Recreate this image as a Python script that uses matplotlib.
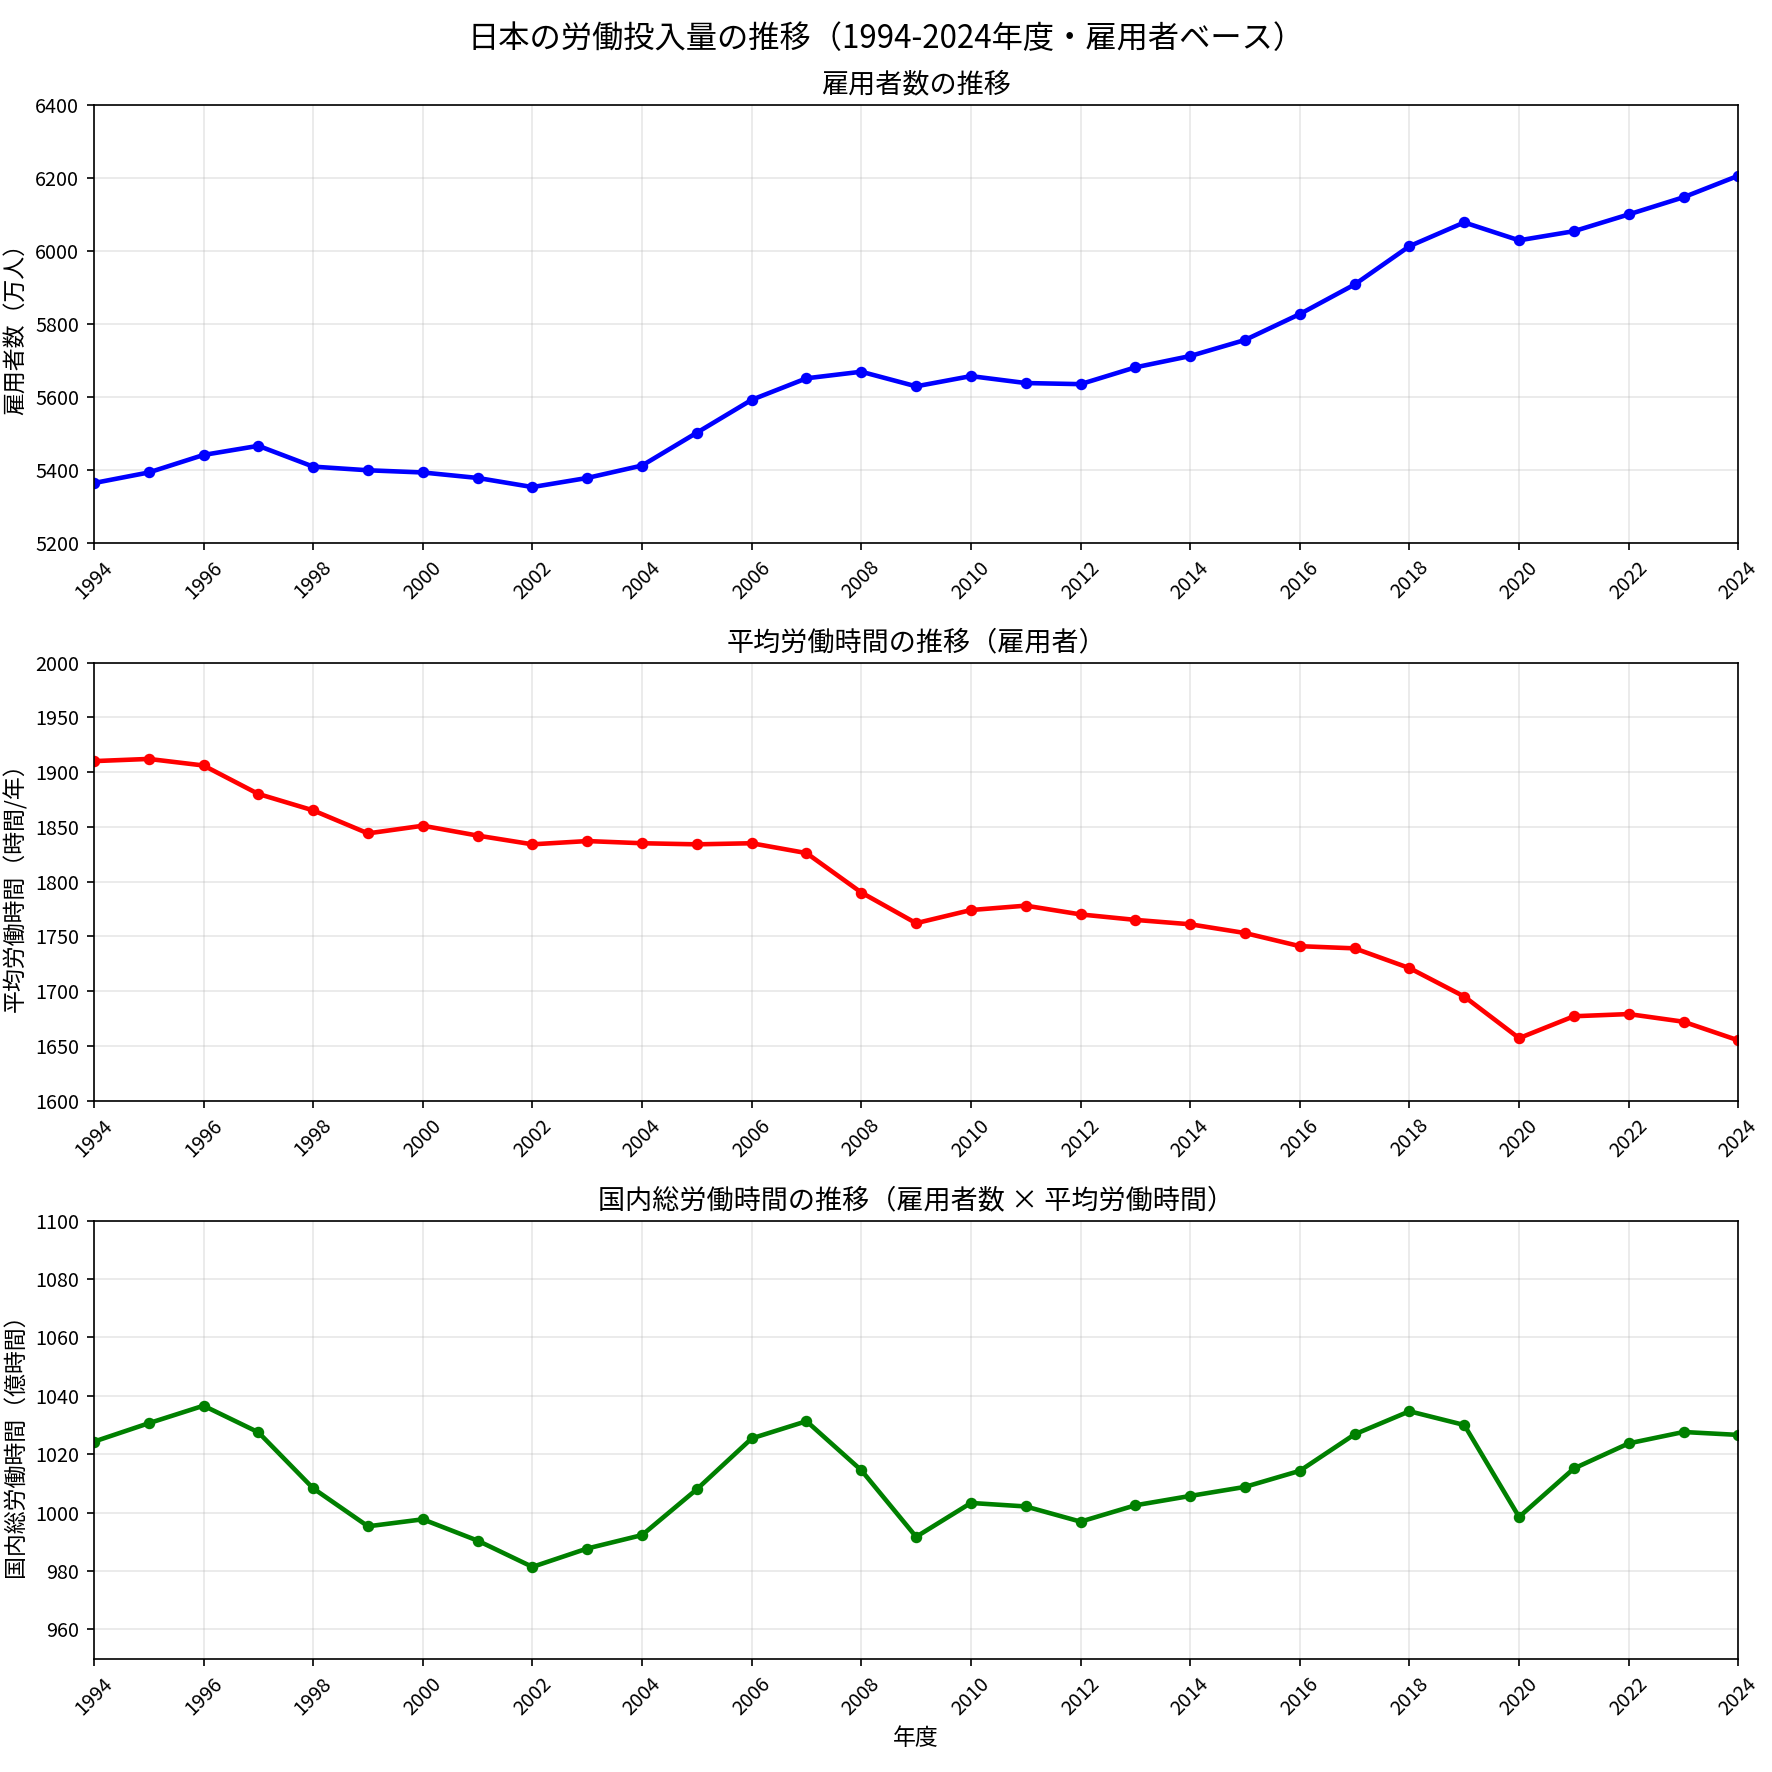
"""
日本の労働投入量の推移（1994-2024年度・雇用者ベース）
雇用者数・平均労働時間・国内総労働時間の3段グラフ
"""

import numpy as np
import matplotlib
matplotlib.use('Agg')
import matplotlib.pyplot as plt

plt.rcParams['font.family'] = ['Noto Sans CJK JP', 'DejaVu Sans']
plt.rcParams['axes.unicode_minus'] = False

# ── data ──────────────────────────────────────────────────────────────────────

years = list(range(1994, 2025))

# 雇用者数（万人）
employees = [5363, 5392, 5440, 5465, 5408, 5398, 5392, 5377, 5352, 5377,
             5411, 5501, 5591, 5650, 5668, 5628, 5656, 5637, 5634, 5680,
             5711, 5755, 5826, 5907, 6012, 6077, 6028, 6053, 6099, 6146,
             6205]

# 平均労働時間（時間/年）
avg_hours = [1910, 1912, 1906, 1880, 1865, 1844, 1851, 1842, 1834, 1837,
             1835, 1834, 1835, 1826, 1790, 1762, 1774, 1778, 1770, 1765,
             1761, 1753, 1741, 1739, 1721, 1695, 1657, 1677, 1679, 1672,
             1655]

# 国内総労働時間（億時間）
total_hours = [1024.3, 1030.6, 1036.6, 1027.5, 1008.3, 995.3, 997.7, 990.4,
               981.4, 987.7, 992.3, 1008.0, 1025.4, 1031.3, 1014.5, 991.7,
               1003.3, 1002.1, 996.9, 1002.5, 1005.7, 1008.8, 1014.3, 1026.8,
               1034.7, 1030.0, 998.5, 1015.1, 1023.7, 1027.6, 1026.6]

year_ticks = list(range(1994, 2025, 2))

panels = [
    ('雇用者数の推移', '雇用者数（万人）', employees, 'blue', (5200, 6400)),
    ('平均労働時間の推移（雇用者）', '平均労働時間（時間/年）', avg_hours, 'red', (1600, 2000)),
    ('国内総労働時間の推移（雇用者数 × 平均労働時間）', '国内総労働時間（億時間）',
     total_hours, 'green', (950, 1100)),
]

# ── plotting ──────────────────────────────────────────────────────────────────

fig, axes = plt.subplots(3, 1, figsize=(1772 / 150, 1772 / 150), dpi=150)
fig.subplots_adjust(left=0.053, right=0.981, top=0.941, bottom=0.064, hspace=0.274)

for ax, (title, ylabel, values, color, ylim) in zip(axes, panels):
    ax.plot(years, values, color=color, linewidth=2.2, marker='o', markersize=4.5)
    ax.set_title(title, fontsize=13)
    ax.set_ylabel(ylabel, fontsize=11)
    ax.set_xlim(1994, 2024)
    ax.set_ylim(*ylim)
    ax.set_xticks(year_ticks)
    ax.tick_params(axis='x', labelrotation=45, labelsize=9.5)
    ax.tick_params(axis='y', labelsize=9.5)
    ax.grid(True, alpha=0.3)

axes[2].set_xlabel('年度', fontsize=11)

fig.suptitle('日本の労働投入量の推移（1994-2024年度・雇用者ベース）', fontsize=15, y=0.987)

plt.savefig('out.png', dpi=150)
plt.close()
